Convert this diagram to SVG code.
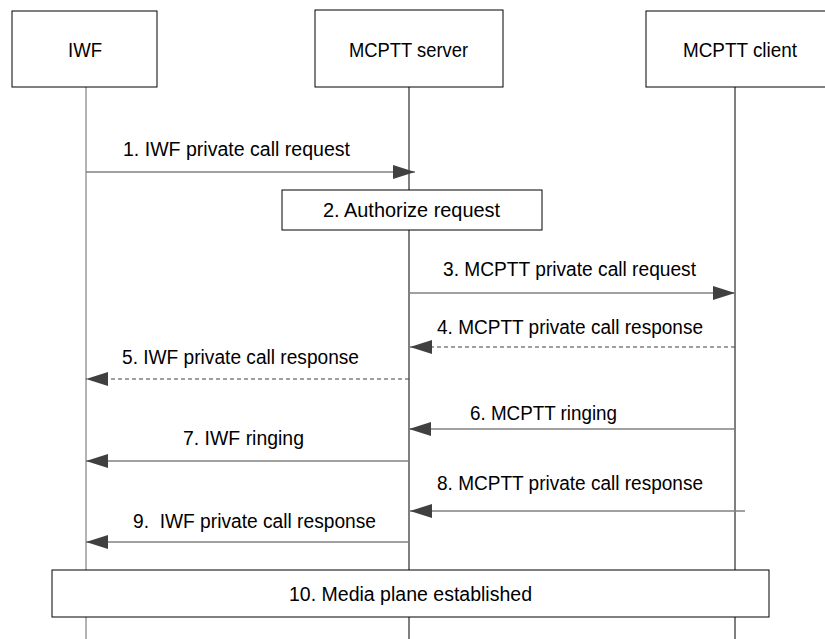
<svg xmlns="http://www.w3.org/2000/svg" width="825" height="639" viewBox="0 0 825 639">
<style>
.box{fill:#fff;stroke:#000;stroke-width:1}
.life{stroke:#000;stroke-width:1}
.msg{stroke:#808080;stroke-width:1.3;fill:none;marker-end:url(#ah)}
.dash{stroke-dasharray:4 3;stroke:#404040;stroke-width:1}
text{font-family:"Liberation Sans",Arial,sans-serif;font-size:20px;fill:#000}
</style>
<defs>
<marker id="ah" viewBox="0 0 22 14" refX="22" refY="7" markerWidth="22" markerHeight="14" markerUnits="userSpaceOnUse" orient="auto">
<path d="M0,0 L22,7 L0,14 z" fill="#404040"/>
</marker>
</defs>
<rect width="825" height="639" fill="#fff"/>
<g id="lifelines">
<line x1="86" y1="87" x2="86" y2="639" stroke="#808080" stroke-width="1.2"/>
<line class="life" x1="409" y1="87" x2="409" y2="639"/>
<line class="life" x1="735" y1="87" x2="735" y2="639"/>
</g>
<g id="iwf">
<rect class="box" x="12" y="11" width="145" height="76"/>
<text x="68" y="57" textLength="34" lengthAdjust="spacingAndGlyphs">IWF</text>
</g>
<g id="server">
<rect class="box" x="315" y="10" width="188" height="77"/>
<text x="349" y="57" textLength="119" lengthAdjust="spacingAndGlyphs">MCPTT server</text>
</g>
<g id="client">
<rect class="box" x="646" y="11" width="180" height="76"/>
<text x="683" y="57" textLength="114" lengthAdjust="spacingAndGlyphs">MCPTT client</text>
</g>
<g id="authorize">
<rect class="box" x="282" y="190" width="260" height="40"/>
<text x="323" y="217" textLength="177" lengthAdjust="spacingAndGlyphs">2. Authorize request</text>
</g>
<g id="media">
<rect class="box" x="52" y="570" width="717" height="47"/>
<text x="289" y="601" textLength="243" lengthAdjust="spacingAndGlyphs">10. Media plane established</text>
</g>
<g id="connectors">
<line class="msg" x1="86" y1="172" x2="415" y2="172"/>
<line class="msg" x1="409" y1="293" x2="735" y2="293"/>
<line class="msg dash" x1="735" y1="347" x2="410" y2="347"/>
<line class="msg dash" x1="409" y1="379" x2="86" y2="379"/>
<line class="msg" x1="735" y1="429" x2="409" y2="429"/>
<line class="msg" x1="409" y1="461" x2="86" y2="461"/>
<line class="msg" x1="745" y1="511" x2="410" y2="511"/>
<line class="msg" x1="409" y1="542" x2="86" y2="542"/>
</g>
<g id="labels">
<text x="123" y="156" textLength="227" lengthAdjust="spacingAndGlyphs">1. IWF private call request</text>
<text x="443" y="276" textLength="253" lengthAdjust="spacingAndGlyphs">3. MCPTT private call request</text>
<text x="437" y="334" textLength="266" lengthAdjust="spacingAndGlyphs">4. MCPTT private call response</text>
<text x="122" y="364" textLength="237" lengthAdjust="spacingAndGlyphs">5. IWF private call response</text>
<text x="470" y="420" textLength="147" lengthAdjust="spacingAndGlyphs">6. MCPTT ringing</text>
<text x="183" y="445" textLength="121" lengthAdjust="spacingAndGlyphs">7. IWF ringing</text>
<text x="437" y="490" textLength="266" lengthAdjust="spacingAndGlyphs">8. MCPTT private call response</text>
<text x="133" y="528" textLength="243" lengthAdjust="spacingAndGlyphs" xml:space="preserve">9.  IWF private call response</text>
</g>
</svg>
